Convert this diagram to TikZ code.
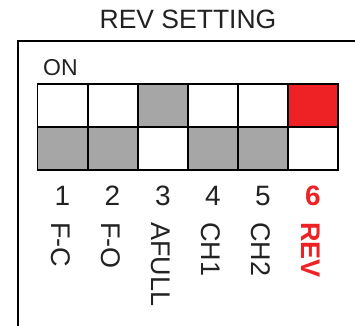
\documentclass[tikz,border=0pt]{standalone}
\usepackage{fontspec}
\setmainfont{Liberation Sans}
\usepackage{xcolor}
\definecolor{swgray}{HTML}{A5A6A5}
\definecolor{swred}{HTML}{EE2124}
\definecolor{txtgray}{HTML}{222222}

\begin{document}
\begin{tikzpicture}[x=1pt, y=-1pt, inner sep=0pt,
  num/.style={txtgray, anchor=base, font=\fontsize{28}{32}\selectfont},
  fn/.style={txtgray, rotate=-90, anchor=west, font=\fontsize{27}{30}\selectfont}]
\useasboundingbox (0,0) rectangle (355,325);
% Frame (runs off the right and bottom edges)
\draw[line width=2pt] (18,330) -- (18,41) -- (360,41);
% Upper row: ON side
\fill[swgray] (138,84) rectangle (188,127);
\fill[swred] (288,84) rectangle (338,127);
% Lower row
\fill[swgray] (37.5,127) rectangle (138,170);
\fill[swgray] (188,127) rectangle (288,170);
% Grid
\draw[line width=1.3pt] (37.5,84) rectangle (338,170);
\draw[line width=1.3pt] (37.5,127) -- (338,127);
\draw[line width=1.3pt] (88,84) -- (88,170);
\draw[line width=1.3pt] (138,84) -- (138,170);
\draw[line width=1.3pt] (188,84) -- (188,170);
\draw[line width=1.3pt] (238,84) -- (238,170);
\draw[line width=1.3pt] (288,84) -- (288,170);
\draw[line width=2.2pt] (37.5,170) -- (338,170);
% Titles
\node[txtgray, font=\fontsize{26.5}{30}\selectfont] (title) at (188,19) {REV SETTING};
\node[txtgray, anchor=base west, font=\fontsize{23}{26}\selectfont] (on) at (43,75) {ON};
% Switch numbers
\node[num] (n1) at (62.5,205) {1};
\node[num] (n2) at (112.5,205) {2};
\node[num] (n3) at (163,205) {3};
\node[num] (n4) at (213,205) {4};
\node[num] (n5) at (263,205) {5};
\node[num, swred, font=\bfseries\fontsize{28}{32}\selectfont] (n6) at (313,205) {6};
% Functions
\node[fn] (fc) at (61,222) {F-C};
\node[fn] (fo) at (111,222) {F-O};
\node[fn] (afull) at (161,222) {AFULL};
\node[fn] (ch1) at (211,222) {CH1};
\node[fn] (ch2) at (261,222) {CH2};
\node[fn, swred, font=\bfseries\fontsize{27}{30}\selectfont] (rev) at (311,222) {REV};
\end{tikzpicture}
\end{document}
